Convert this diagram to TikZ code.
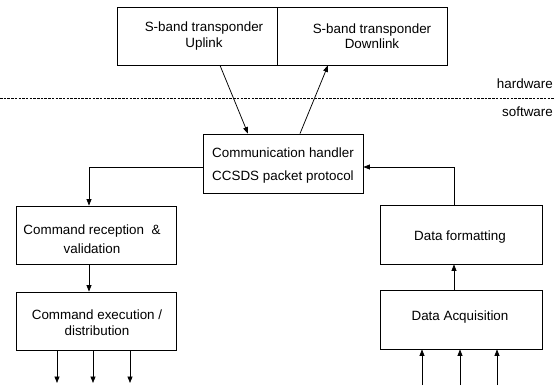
\documentclass[tikz,border=0pt]{standalone}
\usepackage{fontspec}
\setmainfont{Liberation Sans}
\usetikzlibrary{arrows.meta}
\tikzset{
  box/.style={draw, line width=0.8pt, inner sep=0pt, minimum width=#1, minimum height=58pt},
  lbl/.style={inner sep=0pt, align=center, font=\fontsize{13.4}{15.5}\selectfont},
  wire/.style={line width=0.75pt},
  arr/.style={wire, -{Triangle[length=6.5pt,width=5pt]}},
  sep/.style={line width=0.7pt, dash pattern=on 2.5pt off 1.2pt},
}
\begin{document}
\begin{tikzpicture}[x=1pt, y=-1pt]
\useasboundingbox (0,0) rectangle (554,386);

% hardware / software boundary
\coordinate (sepl) at (0,98);
\coordinate (sepr) at (554,98);
\draw[sep] (sepl) -- (sepr);
\node[lbl, anchor=east] (hw) at (553,84) {hardware};
\node[lbl, anchor=east] (sw) at (553,112) {software};

% transponders (hardware)
\node[box=160pt] (up) at (197,36) {};
\node[box=170pt] (down) at (362,36) {};
\node[lbl] (uptxt) at (204,36) {S-band transponder\\Uplink};
\node[lbl] (downtxt) at (372,36) {S-band transponder\\Downlink};

% communication handler
\node[box=160pt, minimum height=59pt] (comm) at (283,163.5) {};
\node[lbl, align=left, font=\fontsize{13.4}{23}\selectfont] (commtxt) at (283,165.5)
  {Communication handler\\CCSDS packet protocol};

% command chain
\node[box=160pt] (crv) at (96,235) {};
\node[lbl, font=\fontsize{13.4}{19}\selectfont] (crvtxt) at (92,239.5) {Command reception \ \&\\validation};
\node[box=160pt] (cex) at (96,321) {};
\node[lbl] (cextxt) at (97,322.5) {Command execution /\\distribution};

% data chain
\node[box=162pt, minimum height=59pt] (dfmt) at (461,234.5) {};
\node[lbl] (dfmttxt) at (460,237) {Data formatting};
\node[box=162pt, minimum height=59pt] (dacq) at (461,319.5) {};
\node[lbl] (dacqtxt) at (460,317) {Data Acquisition};

% links between hardware and software
\draw[arr] ([xshift=23pt]up.south) -- ([xshift=-35pt]comm.north);
\draw[arr] ([xshift=17pt]comm.north) -- ([xshift=-34pt]down.south);

% telecommand path
\draw[arr] ([yshift=-3.5pt]comm.west) -| ([xshift=-7pt]crv.north);
\draw[arr] ([xshift=-7pt]crv.south) -- ([xshift=-7pt]cex.north);
\foreach \i/\x in {1/57,2/93,3/130} {
  \coordinate (cout\i) at (\x,383);
  \draw[arr] (cex.south -| cout\i) -- (cout\i);
}

% telemetry path
\foreach \i/\x in {1/422,2/460,3/497} {
  \coordinate (din\i) at (\x,385);
  \draw[arr] (din\i) -- (dacq.south -| din\i);
}
\draw[arr] ([xshift=-7pt]dacq.north) -- ([xshift=-7pt]dfmt.south);
\draw[arr] ([xshift=-7pt]dfmt.north) |- ([yshift=-3.5pt]comm.east);
\end{tikzpicture}
\end{document}
